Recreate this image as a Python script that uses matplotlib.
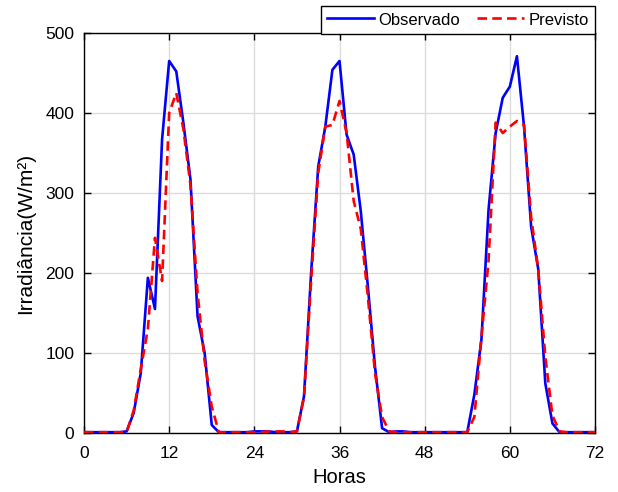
import matplotlib
matplotlib.use("Agg")
import matplotlib.pyplot as plt
import numpy as np

plt.rcParams['font.family'] = ['Liberation Sans', 'DejaVu Sans']

hours = list(range(73))
observado = [1, 1, 1, 1, 1, 1, 2, 25, 75, 194, 155, 367, 465, 452, 388, 317, 146, 100, 10, 1,
             1, 1, 1, 1, 2, 2, 2, 1, 1, 1, 2, 46, 200, 333, 383, 454, 465, 373, 348, 277,
             183, 83, 6, 1, 2, 2, 1, 1, 1, 1, 1, 1, 1, 1, 1, 48, 117, 279, 375, 419,
             433, 471, 383, 258, 205, 62, 12, 1, 1, 1, 1, 1, 1]
previsto = [1, 1, 1, 1, 1, 1, 1, 28, 80, 130, 244, 190, 400, 425, 380, 310, 175, 90, 33, 1,
            1, 1, 1, 1, 1, 1, 2, 2, 2, 1, 2, 45, 190, 325, 383, 385, 415, 375, 290, 255,
            170, 75, 20, 2, 1, 1, 1, 1, 1, 1, 1, 1, 1, 1, 1, 20, 120, 215, 388, 375,
            383, 390, 385, 270, 205, 95, 22, 2, 1, 1, 1, 1, 1]
xticks = [0, 12, 24, 36, 48, 60, 72]
yticks = [0, 100, 200, 300, 400, 500]

fig = plt.figure(figsize=(6.18, 4.92), dpi=100)
ax = fig.add_axes([84/618, 1-433/492, (595-84)/618, (433-33)/492])

ax.plot(hours, observado, color='#0000ff', lw=1.9, label='Observado', zorder=3)
ax.plot(hours, previsto, color='#ff0000', lw=1.9, ls=(0, (3.6, 2.0)), label='Previsto', zorder=4)

ax.set_xlim(0, 72)
ax.set_ylim(0, 500)
ax.set_xticks(xticks)
ax.set_yticks(yticks)
ax.grid(True, color='#dcdcdc', lw=1.0)
ax.set_axisbelow(True)
ax.tick_params(direction='in', top=True, right=True, length=5, width=1, labelsize=12.5,
               colors='black')
ax.tick_params(axis='x', pad=9.5)
ax.tick_params(axis='y', pad=7)
for s in ax.spines.values():
    s.set_linewidth(1.0)
    s.set_color('black')
ax.set_xlabel('Horas', fontsize=14.5, labelpad=5)
ax.set_ylabel('Irradiância(W/m²)', fontsize=15, labelpad=7.5)

leg = fig.legend(loc='upper right', bbox_to_anchor=(595/618, 1-6/492), ncol=2, fontsize=12,
                 frameon=True, fancybox=False, edgecolor='black', framealpha=1,
                 handlelength=2.8, handleheight=1.0, columnspacing=1.0, handletextpad=0.3,
                 borderpad=0.35, borderaxespad=0)
leg.get_frame().set_linewidth(1.0)

fig.savefig('out.png', dpi=100)
